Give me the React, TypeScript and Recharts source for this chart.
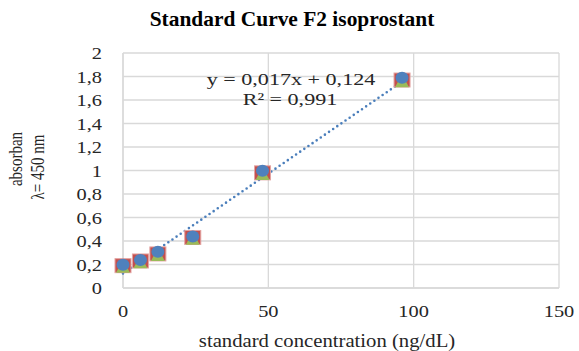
import React from "react";
import { ScatterChart, Scatter, XAxis, YAxis, CartesianGrid } from "recharts";

// standard concentrations (ng/dL)
const concentrations = [0, 6, 12, 24, 48, 96];
// absorbance readings, three overlapping replicate series
const absorbRed = [0.19, 0.23, 0.29, 0.43, 0.98, 1.77];
const absorbGreen = [0.18, 0.22, 0.28, 0.42, 0.97, 1.76];
const absorbBlue = [0.19, 0.23, 0.3, 0.43, 0.99, 1.78];
// linear trendline endpoints (y = 0,017x + 0,124)
const trendX = [0, 96];
const trendY = [0.124, 1.756];

const xTicks = [0, 50, 100, 150];
const yTicks = [0, 0.2, 0.4, 0.6, 0.8, 1, 1.2, 1.4, 1.6, 1.8, 2];

const toPoints = (xs: number[], ys: number[]) => xs.map((x, i) => ({ x, y: ys[i] }));

const redData = toPoints(concentrations, absorbRed);
const greenData = toPoints(concentrations, absorbGreen);
const blueData = toPoints(concentrations, absorbBlue);
const trendData = toPoints(trendX, trendY);

const SERIF = "'Liberation Serif', 'Times New Roman', serif";
const INK = "#262626";
const fmt = (v: number) => String(v).replace(".", ",");

const XTick = (props: any) => {
  const { x, y, payload } = props;
  return (
    <text
      transform={`translate(${x},${y}) scale(1.2,1)`}
      textAnchor="middle"
      dy="0.71em"
      fontFamily={SERIF}
      fontSize={17}
      fill={INK}
    >
      {fmt(payload.value)}
    </text>
  );
};

const YTick = (props: any) => {
  const { x, y, payload } = props;
  return (
    <text
      transform={`translate(${x},${y}) scale(1.2,1)`}
      textAnchor="end"
      dy="0.38em"
      fontFamily={SERIF}
      fontSize={17}
      fill={INK}
    >
      {fmt(payload.value)}
    </text>
  );
};

const Square = ({ cx, cy }: any) => (
  <rect x={cx - 8} y={cy - 7} width={16} height={14} fill="#c44f4d" stroke="#e3a3a1" strokeWidth={1} />
);
const Triangle = ({ cx, cy }: any) => (
  <polygon points={`${cx},${cy - 7} ${cx + 7},${cy + 6} ${cx - 7},${cy + 6}`} fill="#9bbb59" />
);
const Dot = ({ cx, cy }: any) => <ellipse cx={cx} cy={cy - 1} rx={6.5} ry={6} fill="#4f81bd" />;
const NoMark = () => <g />;

const Stretch = ({
  left,
  top,
  size,
  sx,
  bold,
  children,
}: {
  left: number;
  top: number;
  size: number;
  sx: number;
  bold?: boolean;
  children: React.ReactNode;
}) => (
  <div
    style={{
      position: "absolute",
      left,
      top,
      transform: `translateX(-50%) scaleX(${sx})`,
      fontFamily: SERIF,
      fontSize: size,
      fontWeight: bold ? 700 : 400,
      color: bold ? "#000" : INK,
      whiteSpace: "nowrap",
      lineHeight: 1,
    }}
  >
    {children}
  </div>
);

const Vertical = ({ left, top, children }: { left: number; top: number; children: React.ReactNode }) => (
  <div
    style={{
      position: "absolute",
      left,
      top,
      transform: "translate(-50%,-50%) rotate(-90deg) scaleY(1.3)",
      fontFamily: SERIF,
      fontSize: 15,
      color: INK,
      whiteSpace: "nowrap",
      lineHeight: 1,
    }}
  >
    {children}
  </div>
);

export default function App() {
  return (
    <div style={{ position: "absolute", left: 0, top: 0, width: 579, height: 351, background: "#fff" }}>
      <ScatterChart width={579} height={351} margin={{ top: 53, right: 20, bottom: 0, left: 23 }}>
        <CartesianGrid stroke="#d9d9d9" strokeWidth={1.3} />
        <XAxis
          type="number"
          dataKey="x"
          domain={[0, 150]}
          ticks={xTicks}
          height={63}
          stroke="#d9d9d9"
          strokeWidth={1.3}
          tickLine={false}
          tickSize={0}
          tickMargin={17}
          tick={<XTick />}
        />
        <YAxis
          type="number"
          dataKey="y"
          domain={[0, 2]}
          ticks={yTicks}
          width={100}
          stroke="#d9d9d9"
          strokeWidth={1.3}
          tickLine={false}
          tickSize={0}
          tickMargin={21}
          tick={<YTick />}
        />
        <Scatter
          data={trendData}
          shape={<NoMark />}
          line={{ stroke: "#4a7ebb", strokeWidth: 2.6, strokeDasharray: "0 5", strokeLinecap: "round" }}
          isAnimationActive={false}
        />
        <Scatter data={redData} shape={<Square />} isAnimationActive={false} />
        <Scatter data={greenData} shape={<Triangle />} isAnimationActive={false} />
        <Scatter data={blueData} shape={<Dot />} isAnimationActive={false} />
      </ScatterChart>

      <Stretch left={292} top={9} size={21} sx={1.02} bold>
        Standard Curve F2 isoprostant
      </Stretch>
      <Stretch left={291} top={71} size={17} sx={1.3}>
        y = 0,017x + 0,124
      </Stretch>
      <Stretch left={290} top={91} size={17} sx={1.3}>
        R² = 0,991
      </Stretch>
      <Stretch left={327} top={332} size={18} sx={1.15}>
        standard concentration (ng/dL)
      </Stretch>
      <Vertical left={16} top={159}>absorban</Vertical>
      <Vertical left={38} top={167}>λ= 450 nm</Vertical>
    </div>
  );
}
